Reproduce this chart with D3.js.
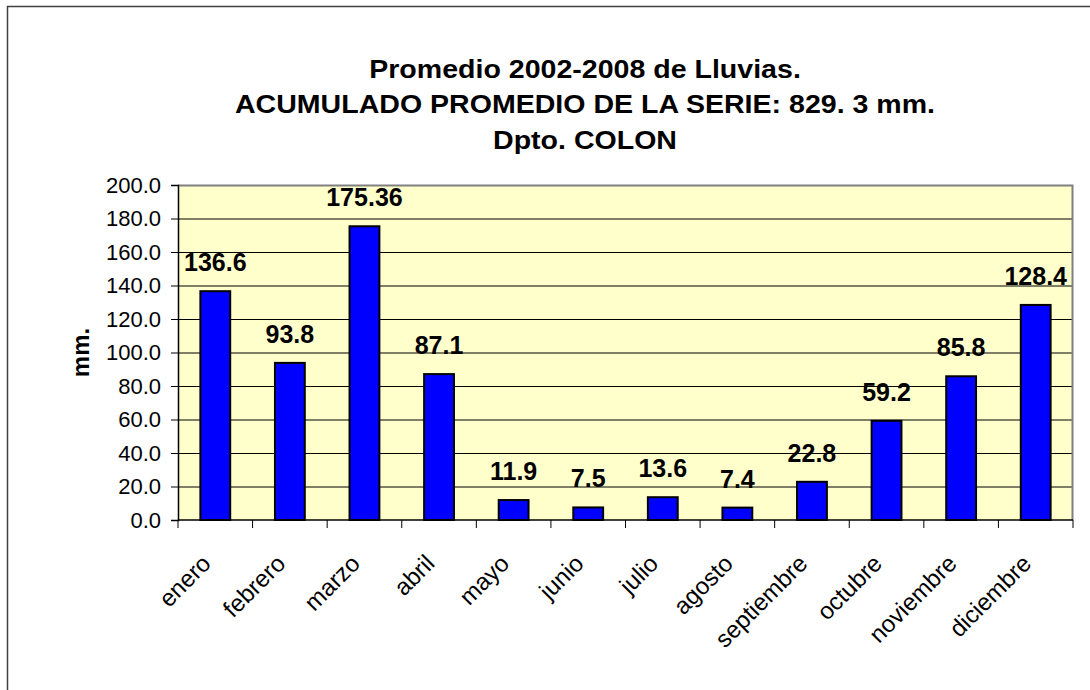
<!DOCTYPE html>
<html>
<head>
<meta charset="utf-8">
<script src="https://cdn.jsdelivr.net/npm/d3@7"></script>
<style>
  html, body { margin: 0; padding: 0; background: #fff; }
  svg { display: block; font-family: "Liberation Sans", Arial, sans-serif; }
</style>
</head>
<body>
<div id="chart"></div>
<script>
// monthly rainfall averages 2002-2008, Dpto. Colon
const months = ["enero", "febrero", "marzo", "abril", "mayo", "junio", "julio",
  "agosto", "septiembre", "octubre", "noviembre", "diciembre"];
const rainfall = [136.6, 93.8, 175.36, 87.1, 11.9, 7.5, 13.6, 7.4, 22.8, 59.2, 85.8, 128.4];
const valueLabels = ["136.6", "93.8", "175.36", "87.1", "11.9", "7.5", "13.6", "7.4",
  "22.8", "59.2", "85.8", "128.4"];
const yTicks = [0, 20, 40, 60, 80, 100, 120, 140, 160, 180, 200];
const titleLines = [
  "Promedio 2002-2008 de Lluvias.",
  "ACUMULADO PROMEDIO DE LA SERIE: 829. 3 mm.",
  "Dpto. COLON"
];
const yLabel = "mm.";

const width = 1090, height = 690;
const plot = { left: 178, right: 1073, top: 185, bottom: 520 };

const svg = d3.select("#chart").append("svg")
  .attr("width", width)
  .attr("height", height);

// chart area frame (runs off the right and bottom of the picture)
svg.append("rect")
  .attr("x", 7.5).attr("y", 6.5)
  .attr("width", 1200).attr("height", 800)
  .attr("fill", "#fff")
  .attr("stroke", "#404040")
  .attr("stroke-width", 1.5);

const x = d3.scaleBand()
  .domain(months)
  .range([plot.left, plot.right])
  .padding(0);

const y = d3.scaleLinear()
  .domain([0, 200])
  .range([plot.bottom, plot.top]);

// plot background
svg.append("rect")
  .attr("x", plot.left).attr("y", plot.top)
  .attr("width", plot.right - plot.left)
  .attr("height", plot.bottom - plot.top)
  .attr("fill", "#FFFFCC");

// gridlines
svg.append("g")
  .attr("transform", `translate(${plot.left},0)`)
  .call(d3.axisLeft(y).tickValues(yTicks.slice(1, -1)).tickSize(-(plot.right - plot.left)).tickFormat(""))
  .call(g => g.select(".domain").remove())
  .call(g => g.selectAll("line").attr("stroke", "#000").attr("stroke-width", 1));

// plot border top/right
svg.append("path")
  .attr("d", `M${plot.left},${plot.top + 0.5}H${plot.right - 0.5}V${plot.bottom}`)
  .attr("fill", "none")
  .attr("stroke", "#808080")
  .attr("stroke-width", 2);

// y axis
svg.append("g")
  .attr("transform", `translate(${plot.left},0)`)
  .call(d3.axisLeft(y).tickValues(yTicks).tickSize(7).tickPadding(10).tickFormat(d3.format(".1f")))
  .call(g => g.select(".domain").attr("stroke", "#000").attr("stroke-width", 1.5))
  .call(g => g.selectAll("line").attr("stroke", "#000"))
  .call(g => g.selectAll("text")
    .attr("font-size", 22)
    .attr("fill", "#000")
    .attr("font-family", "'Liberation Sans', Arial, sans-serif"));

// bars
const barW = x.bandwidth() * 0.4;
svg.append("g")
  .selectAll("rect")
  .data(rainfall)
  .join("rect")
  .attr("x", (d, i) => x(months[i]) + (x.bandwidth() - barW) / 2)
  .attr("y", d => y(d))
  .attr("width", barW)
  .attr("height", d => y(0) - y(d))
  .attr("fill", "#0000FF")
  .attr("stroke", "#000")
  .attr("stroke-width", 2);

// x axis line and category boundary ticks
const edges = months.map(m => x(m)).concat([plot.right]);
svg.append("line")
  .attr("x1", plot.left).attr("x2", plot.right)
  .attr("y1", y(0)).attr("y2", y(0))
  .attr("stroke", "#000").attr("stroke-width", 1.5);
svg.append("g")
  .selectAll("line")
  .data(edges)
  .join("line")
  .attr("x1", d => d).attr("x2", d => d)
  .attr("y1", y(0)).attr("y2", y(0) + 8)
  .attr("stroke", "#000");

// rotated month labels
svg.append("g")
  .selectAll("text")
  .data(months)
  .join("text")
  .attr("transform", d => `translate(${x(d) + x.bandwidth() / 2 - 3},${y(0) + 45}) rotate(-45)`)
  .attr("text-anchor", "end")
  .attr("font-size", 24)
  .attr("fill", "#000")
  .text(d => d);

// value labels
svg.append("g")
  .selectAll("text")
  .data(rainfall)
  .join("text")
  .attr("x", (d, i) => x(months[i]) + x.bandwidth() / 2)
  .attr("y", d => y(d) - 20)
  .attr("text-anchor", "middle")
  .attr("font-size", 25)
  .attr("font-weight", "bold")
  .attr("fill", "#000")
  .text((d, i) => valueLabels[i]);

// y axis title
svg.append("text")
  .attr("transform", `translate(89,${(plot.top + plot.bottom) / 2}) rotate(-90)`)
  .attr("text-anchor", "middle")
  .attr("font-size", 24)
  .attr("font-weight", "bold")
  .text(yLabel);

// chart title (slightly wide bold face in the original)
svg.append("g")
  .attr("transform", "translate(585,0) scale(1.12,1)")
  .selectAll("text")
  .data(titleLines)
  .join("text")
  .attr("x", 0)
  .attr("y", (d, i) => 78 + i * 35.5)
  .attr("text-anchor", "middle")
  .attr("font-size", 25.5)
  .attr("font-weight", "bold")
  .text(d => d);
</script>
</body>
</html>
